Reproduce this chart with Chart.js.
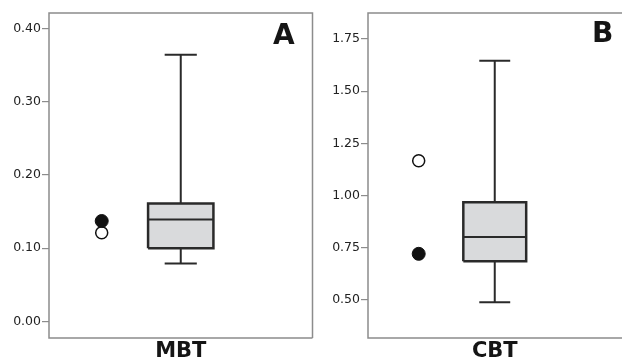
<!DOCTYPE html>
<html>
<head>
<meta charset="utf-8">
<script src="https://cdn.jsdelivr.net/npm/chart.js@4.4.1/dist/chart.umd.min.js"></script>
<style>
  body { margin: 0; background: #fff; }
  #wrap { position: relative; width: 622px; height: 363px; overflow: hidden; }
  canvas { position: absolute; top: 0; }
  .letter { position: absolute; font: bold 28px "DejaVu Sans", Verdana, sans-serif; color: #151515; line-height: 28px; }
</style>
</head>
<body>
<div id="wrap">
  <canvas id="chartA" width="320" height="363" style="left:0"></canvas>
  <canvas id="chartB" width="317" height="363" style="left:312px"></canvas>
  <div class="letter" style="left:273px; top:21px">A</div>
  <div class="letter" style="left:592px; top:19px">B</div>
</div>
<script>
// box plot values
const categories = ['MBT', 'CBT'];
const whiskerLow = [0.079, 0.489];
const quartile1 = [0.100, 0.686];
const medians = [0.139, 0.801];
const quartile3 = [0.161, 0.968];
const whiskerHigh = [0.364, 1.645];
const filledPoint = [0.137, 0.721];
const openPoint = [0.121, 1.167];

const yTicksA = [0.00, 0.10, 0.20, 0.30, 0.40];
const yTicksB = [0.50, 0.75, 1.00, 1.25, 1.50, 1.75];

const dark = '#2a2a2a';
const frameColor = '#8c8c8c';

// draws the plot frame (B is cut at the right edge of the figure)
const framePlugin = {
    id: 'frame',
    afterDraw(chart, args, opts) {
        const a = chart.chartArea;
        const ctx = chart.ctx;
        ctx.save();
        ctx.strokeStyle = frameColor;
        ctx.lineWidth = 1.5;
        ctx.beginPath();
        if (opts.right) {
            ctx.moveTo(a.right, a.bottom);
            ctx.lineTo(a.right, a.top);
        } else {
            ctx.moveTo(a.right + 5, a.top);
        }
        ctx.lineTo(a.left, a.top);
        ctx.lineTo(a.left, a.bottom);
        ctx.lineTo(opts.right ? a.right : a.right + 5, a.bottom);
        ctx.stroke();
        ctx.restore();
    }
};

function seg(x1, y1, x2, y2) {
    return {
        data: [{x: x1, y: y1}, {x: x2, y: y2}],
        showLine: true,
        borderColor: dark,
        borderWidth: 2,
        pointRadius: 0,
        fill: false
    };
}

function makePanel(id, i, yMin, yMax, ticks, leftWidth, hasRight) {
    const cx = 0.5, half = 0.124, cap = 0.061, px = 0.2;
    const datasets = [
        {
            data: [{x: px, y: filledPoint[i]}],
            pointRadius: 6.5,
            pointBackgroundColor: '#111',
            pointBorderColor: '#111',
            pointBorderWidth: 1
        },
        {
            data: [{x: px, y: openPoint[i]}],
            pointRadius: 6,
            pointBackgroundColor: '#fff',
            pointBorderColor: '#111',
            pointBorderWidth: 1.5
        },
        seg(cx - half, medians[i], cx + half, medians[i]),
        {
            data: [
                {x: cx - half, y: quartile1[i]},
                {x: cx + half, y: quartile1[i]},
                {x: cx + half, y: quartile3[i]},
                {x: cx - half, y: quartile3[i]},
                {x: cx - half, y: quartile1[i]}
            ],
            showLine: true,
            borderColor: dark,
            borderWidth: 2.5,
            backgroundColor: '#d9dadc',
            fill: 'shape',
            pointRadius: 0,
            tension: 0
        },
        seg(cx, quartile3[i], cx, whiskerHigh[i]),
        seg(cx, quartile1[i], cx, whiskerLow[i]),
        seg(cx - cap, whiskerHigh[i], cx + cap, whiskerHigh[i]),
        seg(cx - cap, whiskerLow[i], cx + cap, whiskerLow[i])
    ];

    // note: the right edge of the plot is set by the point overflow padding (~7.5px)
    return new Chart(document.getElementById(id), {
        type: 'scatter',
        data: { datasets: datasets },
        plugins: [framePlugin],
        options: {
            responsive: false,
            animation: false,
            layout: { padding: { top: 13, right: 0, left: 0, bottom: 0 } },
            plugins: {
                legend: { display: false },
                tooltip: { enabled: false },
                frame: { right: hasRight }
            },
            scales: {
                x: {
                    type: 'linear',
                    min: 0,
                    max: 1,
                    border: { display: false },
                    grid: { display: false, drawTicks: false },
                    afterBuildTicks: s => { s.ticks = [{value: cx}]; },
                    afterFit: s => { s.height = 25; },
                    ticks: {
                        padding: 1,
                        color: '#151515',
                        font: { family: '"DejaVu Sans", Verdana, sans-serif', size: 21, weight: 'bold' },
                        callback: () => categories[i]
                    }
                },
                y: {
                    min: yMin,
                    max: yMax,
                    border: { display: false },
                    grid: { drawOnChartArea: false, drawTicks: true, tickLength: 7, color: frameColor, lineWidth: 1.2 },
                    afterBuildTicks: s => { s.ticks = ticks.map(v => ({value: v})); },
                    afterFit: s => { s.width = leftWidth; },
                    ticks: {
                        padding: 1,
                        color: '#222',
                        font: { family: '"DejaVu Sans", Verdana, sans-serif', size: 12.5 },
                        callback: v => Number(v).toFixed(2)
                    }
                }
            }
        }
    });
}

makePanel('chartA', 0, -0.0227, 0.421, yTicksA, 49, true);
makePanel('chartB', 1, 0.318, 1.874, yTicksB, 56, false);
</script>
</body>
</html>
